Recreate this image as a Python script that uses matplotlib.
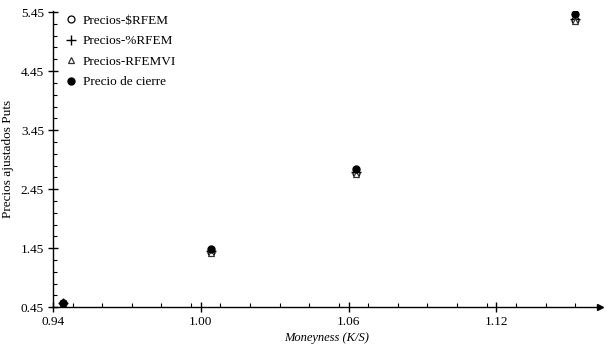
import numpy as np
import matplotlib
matplotlib.use("Agg")
import matplotlib.pyplot as plt
from matplotlib.ticker import MultipleLocator, FixedLocator

plt.rcParams["font.family"] = ["Liberation Serif", "DejaVu Serif"]

# Data
moneyness = [0.944, 1.004, 1.063, 1.152]
precios_rfem_abs = [0.52, 1.39, 2.72, 5.31]   # Precios-$RFEM
precios_rfem_pct = [0.52, 1.40, 2.74, 5.33]   # Precios-%RFEM
precios_rfemvi = [0.51, 1.37, 2.70, 5.30]     # Precios-RFEMVI
precio_cierre = [0.53, 1.43, 2.79, 5.42]      # Precio de cierre

x_ticks = [0.94, 1.00, 1.06, 1.12]
y_ticks = [0.45, 1.45, 2.45, 3.45, 4.45, 5.45]


def plot_prices():
    fig = plt.figure(figsize=(6.09, 3.5), dpi=100)
    ax = fig.add_axes([0.087, 0.122, 0.898, 0.847])

    ax.plot(moneyness, precios_rfem_abs, linestyle="none", marker="o",
            markerfacecolor="white", markeredgecolor="black", markersize=5,
            markeredgewidth=0.9, label="Precios-$RFEM")
    ax.plot(moneyness, precios_rfem_pct, linestyle="none", marker="+",
            color="black", markersize=7, markeredgewidth=1.0,
            label="Precios-%RFEM")
    ax.plot(moneyness, precios_rfemvi, linestyle="none", marker="^",
            markerfacecolor="white", markeredgecolor="#333333", markersize=5,
            markeredgewidth=0.9, label="Precios-RFEMVI")
    ax.plot(moneyness, precio_cierre, linestyle="none", marker="o",
            color="black", markersize=5, label="Precio de cierre")

    ax.set_xlim(0.94, 1.162)
    ax.set_ylim(0.45, 5.47)

    ax.xaxis.set_major_locator(FixedLocator(x_ticks))
    ax.xaxis.set_minor_locator(MultipleLocator(0.012))
    ax.yaxis.set_major_locator(FixedLocator(y_ticks))
    ax.yaxis.set_minor_locator(FixedLocator(np.arange(0.65, 5.45, 0.2)))
    ax.set_xticklabels(["0.94", "1.00", "1.06", "1.12"])
    ax.set_yticklabels([f"{v:.2f}" for v in y_ticks])

    ax.tick_params(which="major", direction="inout", length=7, width=1,
                   labelsize=9.5, pad=3)
    ax.tick_params(which="minor", direction="in", length=3, width=0.8)

    for side in ["top", "right"]:
        ax.spines[side].set_visible(False)
    for side in ["left", "bottom"]:
        ax.spines[side].set_linewidth(1.0)

    # arrow head at the end of the x axis
    ax.plot(1, 0, ">", color="black", markersize=4,
            transform=ax.transAxes, clip_on=False)

    ax.set_xlabel("Moneyness (K/S)", fontsize=9, style="italic")
    ax.set_ylabel("Precios ajustados Puts", fontsize=9.5)
    ax.xaxis.set_label_coords(0.5, -0.085)
    ax.yaxis.set_label_coords(-0.072, 0.5)

    ax.legend(loc="upper left", bbox_to_anchor=(0.001, 1.018), frameon=False,
              fontsize=9.5, handletextpad=0.3, labelspacing=0.62,
              handlelength=1.2, borderaxespad=0.3)

    fig.savefig("out.png", dpi=100)


def main():
    plot_prices()


if __name__ == "__main__":
    main()
